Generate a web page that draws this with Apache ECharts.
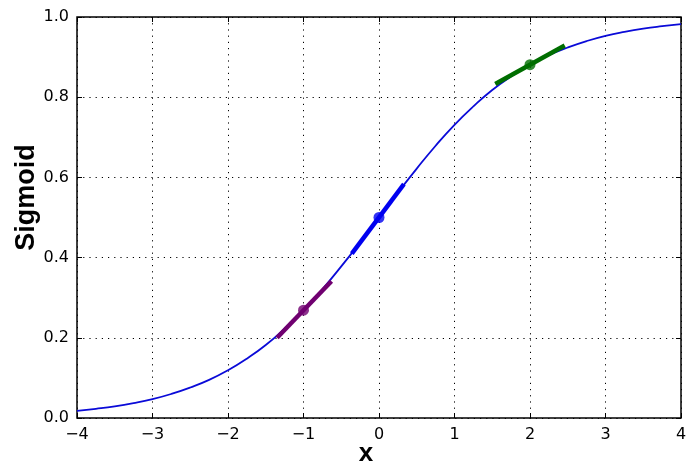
<!DOCTYPE html>
<html>
<head>
<meta charset="utf-8">
<script src="https://cdn.jsdelivr.net/npm/echarts@6/dist/echarts.min.js"></script>
<style>html,body{margin:0;padding:0;background:#fff;}#c{width:693px;height:471px;}</style>
</head>
<body>
<div id="c"></div>
<script>
// Sigmoid curve
var curveX = [-4,-3.75,-3.5,-3.25,-3,-2.75,-2.5,-2.25,-2,-1.75,-1.5,-1.25,-1,-0.75,-0.5,-0.25,0,0.25,0.5,0.75,1,1.25,1.5,1.75,2,2.25,2.5,2.75,3,3.25,3.5,3.75,4];
var curveY = [0.018,0.023,0.029,0.037,0.047,0.060,0.076,0.095,0.119,0.148,0.182,0.223,0.269,0.321,0.378,0.438,0.5,0.562,0.622,0.679,0.731,0.777,0.818,0.852,0.881,0.905,0.924,0.940,0.953,0.963,0.971,0.977,0.982];

// Tangent segments (x endpoints, y endpoints)
var purpleX = [-1.35, -0.63];
var purpleY = [0.200, 0.341];
var blueX = [-0.36, 0.33];
var blueY = [0.410, 0.583];
var greenX = [1.54, 2.46];
var greenY = [0.833, 0.929];

// Marked points
var pointsX = [-1, 0, 2];
var pointsY = [0.269, 0.5, 0.881];
var pointColors = ['#700070', '#0000f0', '#006e00'];

var xTicks = [-4,-3,-2,-1,0,1,2,3,4];
var yTicks = [0.0,0.2,0.4,0.6,0.8,1.0];

function zip(a, b) { return a.map(function (v, i) { return [v, b[i]]; }); }

var font = 'DejaVu Sans';
var labelFont = 'Liberation Sans';
var chart = echarts.init(document.getElementById('c'), null, {renderer: 'canvas'});

var dotted = {show: true, lineStyle: {color: '#000', width: 1, type: [1.2, 5]}};
var tick = {show: true, inside: true, length: 5, lineStyle: {color: '#000', width: 1}};

chart.setOption({
  animation: false,
  grid: {left: 77, right: 12, top: 17, bottom: 53, show: true, borderColor: '#000', borderWidth: 1.5,
         backgroundColor: 'transparent', containLabel: false, outerBoundsMode: 'none'},
  xAxis: [{
    type: 'value', min: -4, max: 4, interval: 1,
    name: 'x', nameLocation: 'middle', nameGap: 23, nameMoveOverlap: false,
    nameTextStyle: {fontFamily: labelFont, fontSize: 26, fontWeight: 'bold', color: '#000', padding: [0, 26, 0, 0]},
    axisLine: {show: false, onZero: false},
    axisTick: tick,
    axisLabel: {fontFamily: font, fontSize: 16, color: '#000', margin: 9,
      formatter: function (v) { return String(v).replace('-', '\u2212'); }},
    splitLine: dotted
  }, {
    type: 'value', min: -4, max: 4, interval: 1, position: 'top',
    axisLine: {show: false, onZero: false}, axisLabel: {show: false}, splitLine: {show: false},
    axisTick: tick
  }],
  yAxis: [{
    type: 'value', min: 0, max: 1, interval: 0.2,
    name: 'Sigmoid', nameLocation: 'middle', nameGap: 37, nameMoveOverlap: false,
    nameTextStyle: {fontFamily: labelFont, fontSize: 27, fontWeight: 'bold', color: '#000', padding: [0, 0, 0, 40]},
    axisLine: {show: false, onZero: false},
    axisTick: tick,
    axisLabel: {fontFamily: font, fontSize: 16, color: '#000', margin: 8,
      formatter: function (v) { return v.toFixed(1); }},
    splitLine: dotted
  }, {
    type: 'value', min: 0, max: 1, interval: 0.2, position: 'right',
    axisLine: {show: false, onZero: false}, axisLabel: {show: false}, splitLine: {show: false},
    axisTick: tick
  }],
  series: [
    {type: 'line', data: zip(curveX, curveY), smooth: true, showSymbol: false, symbol: 'none',
     lineStyle: {color: '#0a0ad8', width: 1.8}, z: 2},
    {type: 'line', data: zip(purpleX, purpleY), symbol: 'none', lineStyle: {color: '#700070', width: 4.5}, z: 3},
    {type: 'line', data: zip(blueX, blueY), symbol: 'none', lineStyle: {color: '#0000f0', width: 4.5}, z: 3},
    {type: 'line', data: zip(greenX, greenY), symbol: 'none', lineStyle: {color: '#006e00', width: 4.5}, z: 3},
    {type: 'scatter', symbolSize: 11, z: 4,
     data: pointsX.map(function (x, i) { return {value: [x, pointsY[i]], itemStyle: {color: pointColors[i]}}; })}
  ]
});
</script>
</body>
</html>
